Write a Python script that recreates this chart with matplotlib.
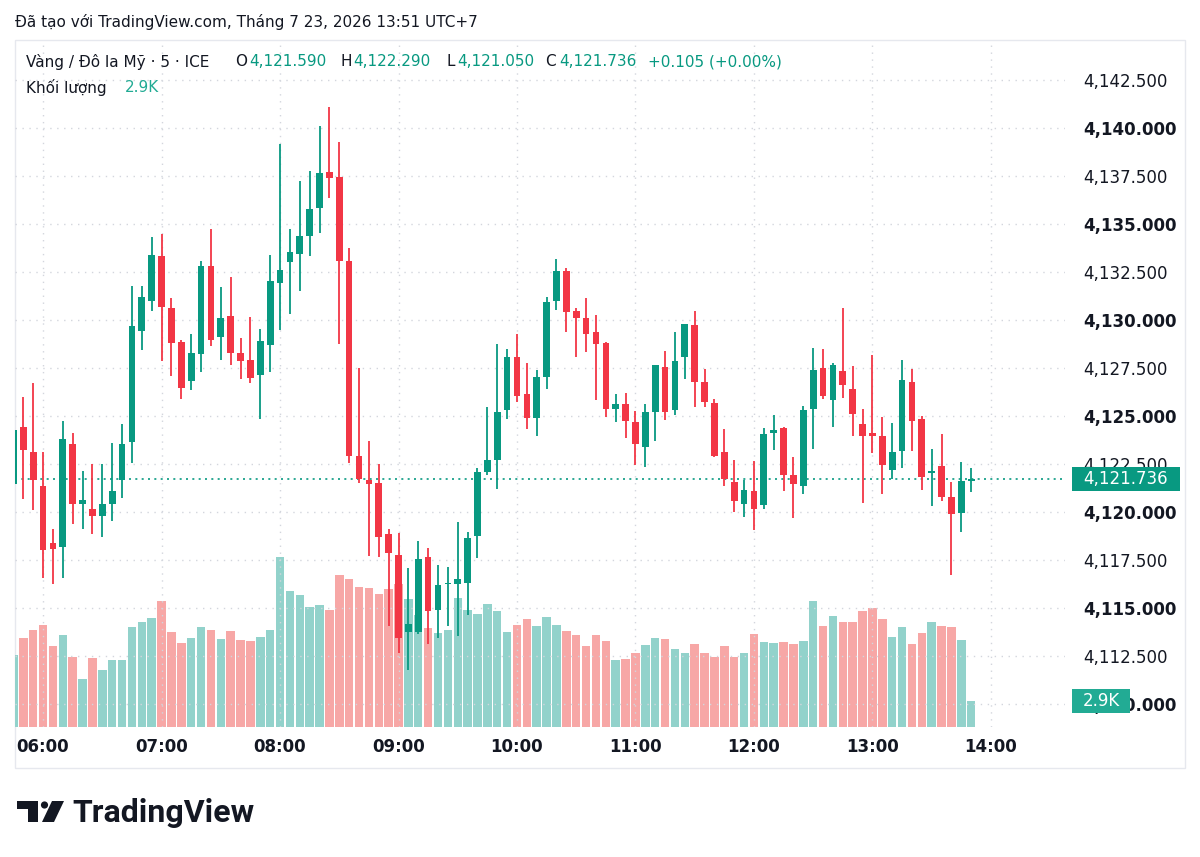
import matplotlib
matplotlib.use('Agg')
import matplotlib.pyplot as plt
import matplotlib.transforms as mtrans
from matplotlib.patches import Rectangle, Circle, Polygon
import numpy as np
import pandas as pd

# 5 minute candles, first one at 05:45
opens = [4121.45, 4124.42, 4123.10, 4121.34, 4118.39, 4118.18, 4123.52, 4120.44, 4120.17, 4119.81,
         4120.42, 4121.68, 4123.63, 4129.45, 4130.99, 4133.31, 4130.63, 4128.87, 4126.81, 4128.22,
         4132.79, 4129.12, 4130.21, 4128.26, 4127.92, 4127.15, 4128.72, 4131.91, 4133.02, 4133.42,
         4134.36, 4135.85, 4137.69, 4137.42, 4133.08, 4122.91, 4121.68, 4121.49, 4118.87, 4117.78,
         4113.73, 4113.73, 4117.67, 4114.88, 4116.25, 4116.25, 4116.29, 4118.76, 4122.10, 4122.68,
         4125.30, 4128.05, 4126.16, 4124.88, 4127.04, 4130.99, 4132.56, 4130.46, 4130.10, 4129.37,
         4128.78, 4125.37, 4125.62, 4124.67, 4123.38, 4125.22, 4127.57, 4125.32, 4128.09, 4129.73,
         4126.79, 4125.68, 4123.10, 4121.55, 4120.42, 4121.07, 4120.38, 4124.13, 4124.36, 4121.91,
         4121.34, 4125.37, 4127.51, 4125.85, 4127.32, 4126.42, 4124.57, 4124.11, 4123.98, 4122.18,
         4123.17, 4126.79, 4124.82, 4122.05, 4122.39, 4120.78, 4119.95, 4121.59]
highs = [4124.35, 4126.00, 4126.73, 4123.10, 4119.12, 4124.74, 4124.11, 4122.14, 4122.52, 4122.52,
         4123.58, 4124.57, 4131.78, 4131.78, 4134.32, 4134.49, 4131.13, 4128.97, 4129.25, 4133.08,
         4134.74, 4131.70, 4132.24, 4129.08, 4130.17, 4129.52, 4133.38, 4139.14, 4134.74, 4137.23,
         4137.78, 4140.10, 4141.09, 4139.27, 4133.77, 4127.51, 4123.69, 4122.49, 4119.12, 4118.91,
         4117.10, 4118.49, 4118.13, 4117.23, 4117.15, 4119.50, 4118.97, 4122.28, 4125.47, 4128.76,
         4128.47, 4129.25, 4127.74, 4127.40, 4131.17, 4133.17, 4132.70, 4130.61, 4131.13, 4130.27,
         4128.83, 4126.16, 4126.20, 4125.26, 4125.62, 4127.67, 4128.36, 4129.39, 4129.81, 4130.44,
         4127.42, 4125.89, 4124.32, 4122.68, 4121.64, 4122.64, 4124.36, 4125.03, 4124.42, 4122.85,
         4125.53, 4128.55, 4128.51, 4127.78, 4130.61, 4127.61, 4125.37, 4128.20, 4124.95, 4124.63,
         4127.92, 4127.42, 4124.99, 4123.26, 4124.07, 4121.56, 4122.62, 4122.29]
lows = [4121.40, 4120.65, 4120.08, 4116.56, 4116.25, 4116.56, 4119.35, 4119.12, 4118.87, 4118.70,
        4119.54, 4120.71, 4122.54, 4128.41, 4130.44, 4127.88, 4127.09, 4125.89, 4126.37, 4127.30,
        4128.66, 4127.92, 4127.67, 4126.90, 4126.71, 4124.84, 4127.30, 4129.50, 4130.29, 4131.51,
        4133.33, 4134.53, 4136.37, 4128.76, 4122.54, 4121.49, 4117.71, 4117.67, 4114.05, 4112.68,
        4111.77, 4113.65, 4113.10, 4113.42, 4114.05, 4113.52, 4114.63, 4117.61, 4121.91, 4121.17,
        4124.84, 4125.74, 4124.32, 4123.94, 4126.42, 4130.50, 4129.39, 4128.09, 4128.34, 4125.83,
        4124.95, 4124.70, 4123.84, 4122.47, 4122.33, 4123.69, 4124.80, 4125.05, 4126.90, 4125.47,
        4125.47, 4122.85, 4121.34, 4119.98, 4119.75, 4119.08, 4120.17, 4123.21, 4121.07, 4119.66,
        4120.96, 4123.27, 4125.89, 4124.42, 4125.93, 4123.94, 4120.48, 4123.06, 4120.96, 4121.70,
        4122.28, 4123.17, 4121.13, 4120.31, 4120.57, 4116.71, 4118.98, 4121.05]
closes = [4124.28, 4123.23, 4121.64, 4118.03, 4118.07, 4123.79, 4120.44, 4120.61, 4119.81, 4120.42,
          4121.11, 4123.56, 4129.66, 4131.17, 4133.38, 4130.67, 4128.78, 4126.44, 4128.26, 4132.79,
          4128.95, 4130.08, 4128.26, 4127.86, 4127.00, 4128.91, 4132.01, 4132.58, 4133.56, 4134.36,
          4135.79, 4137.67, 4137.40, 4133.08, 4122.93, 4121.70, 4121.45, 4118.70, 4117.86, 4113.46,
          4114.15, 4117.55, 4114.82, 4116.18, 4116.32, 4116.50, 4118.66, 4122.10, 4122.70, 4125.20,
          4128.09, 4126.04, 4124.88, 4127.04, 4130.94, 4132.54, 4130.40, 4130.08, 4129.27, 4128.74,
          4125.37, 4125.62, 4124.74, 4123.54, 4125.20, 4127.63, 4125.22, 4127.84, 4129.77, 4126.77,
          4125.74, 4122.89, 4121.70, 4120.59, 4121.13, 4120.13, 4124.07, 4124.26, 4121.91, 4121.45,
          4125.32, 4127.38, 4126.06, 4127.63, 4126.60, 4125.12, 4123.94, 4123.98, 4122.43, 4123.14,
          4126.88, 4124.74, 4121.84, 4122.10, 4120.80, 4119.91, 4121.63, 4121.736]
# volume in thousands
volumes = [8.0, 9.9, 10.8, 11.4, 9.0, 10.3, 7.8, 5.4, 7.7, 6.4,
           7.5, 7.5, 11.1, 11.7, 12.2, 14.0, 10.6, 9.4, 9.9, 11.1,
           10.8, 9.8, 10.7, 9.7, 9.6, 10.0, 10.8, 19.0, 15.2, 14.7,
           13.4, 13.6, 13.0, 17.0, 16.5, 15.6, 15.5, 14.8, 15.4, 16.0,
           14.3, 12.5, 11.0, 10.5, 10.8, 14.4, 13.0, 12.6, 13.7, 12.9,
           10.6, 11.4, 12.0, 11.3, 12.3, 11.4, 10.7, 10.3, 9.0, 10.3,
           9.6, 7.5, 7.6, 8.2, 9.1, 9.9, 9.8, 8.7, 8.3, 9.3,
           8.2, 7.8, 9.0, 7.8, 8.2, 10.4, 9.5, 9.4, 9.5, 9.3,
           9.6, 14.1, 11.3, 12.4, 11.7, 11.7, 12.9, 13.3, 12.0, 10.0,
           11.2, 9.3, 10.5, 11.7, 11.3, 11.1, 9.7, 2.9]

price_ticks = [4110.0, 4112.5, 4115.0, 4117.5, 4120.0, 4122.5, 4125.0, 4127.5,
               4130.0, 4132.5, 4135.0, 4137.5, 4140.0, 4142.5]
hour_labels = ['06:00', '07:00', '08:00', '09:00', '10:00', '11:00', '12:00', '13:00', '14:00']
last_price = 4121.736
last_vol_label = '2.9K'

title = 'Đã tạo với TradingView.com, Tháng 7 23, 2026 13:51 UTC+7'
symbol = 'Vàng / Đô la Mỹ · 5 · ICE'
ohlc_text = [('O', '4,121.590'), ('H', '4,122.290'), ('L', '4,121.050'), ('C', '4,121.736')]
change_text = '+0.105 (+0.00%)'

UP = '#089981'
DOWN = '#f23645'
VOL_UP = '#92d2cb'
VOL_DOWN = '#f7a7a6'
TXT = '#131722'
GRID = '#d3d6dd'

times = pd.date_range('2026-07-23 05:45', periods=len(closes), freq='5min')
idx = np.arange(len(closes))
o = np.array(opens); c = np.array(closes)
up = c >= o

W, H = 1200, 857
fig = plt.figure(figsize=(W / 100, H / 100), dpi=100)
fig.patch.set_facecolor('white')

def fr(px, py):
    return px / W, 1 - py / H

rect = [15 / W, 1 - 727 / H, (1065 - 15) / W, (727 - 40) / H]
axv = fig.add_axes(rect)
ax = fig.add_axes(rect, sharex=axv)
ax.set_zorder(1)
axv.set_zorder(0)
ax.patch.set_visible(False)

# volume
axv.bar(idx, volumes, width=0.86, color=np.where(up, VOL_UP, VOL_DOWN), linewidth=0)
axv.set_ylim(0, 76.6)
axv.axis('off')

# candles
cols = np.where(up, UP, DOWN)
ax.vlines(idx, lows, highs, color=cols, linewidth=1.3, zorder=3)
body_lo = np.minimum(o, c)
body_h = np.maximum(np.abs(c - o), 0.07)
ax.bar(idx, body_h, bottom=body_lo, width=0.68, color=cols, linewidth=0, zorder=4)

ax.set_xlim(0.16, 106.5)
ax.set_ylim(4108.80, 4144.58)

# current price line
ax.axhline(last_price, color=UP, linewidth=1.2, linestyle=(0, (1.2, 2.6)), zorder=2)

# axes and grid
hour_pos = [i for i, t in enumerate(times) if t.minute == 0]
hour_pos.append(hour_pos[-1] + 12)
ax.set_xticks(hour_pos)
ax.set_xticklabels(hour_labels)
ax.set_yticks(price_ticks)
ax.set_yticklabels([f'{v:,.3f}' for v in price_ticks])
ax.yaxis.tick_right()
ax.tick_params(axis='y', length=0, pad=13, labelsize=12, labelcolor=TXT)
ax.tick_params(axis='x', length=0, pad=8, labelsize=12, labelcolor=TXT)
for lab, v in zip(ax.get_yticklabels(), price_ticks):
    if v % 5 == 0:
        lab.set_fontweight('bold')
for lab in ax.get_xticklabels():
    lab.set_fontweight('bold')
ax.grid(True, color=GRID, linestyle=(0, (1, 4)), linewidth=1, zorder=0)
for s in ax.spines.values():
    s.set_visible(False)

# panel border
fig.add_artist(Rectangle(fr(15, 768), (1185 - 15) / W, (768 - 40) / H, transform=fig.transFigure,
                         fill=False, edgecolor='#e6e8ee', linewidth=1, zorder=0))

# price label and volume label boxes (they sit over the axis labels like in TradingView)
tp = mtrans.blended_transform_factory(fig.transFigure, ax.transData)
fig.add_artist(Rectangle((1072 / W, last_price - 0.63), 108 / W, 1.26, transform=tp,
                         facecolor=UP, edgecolor='none', zorder=5))
fig.text(1083 / W, last_price, f'{last_price:,.3f}', transform=tp, color='white', fontsize=12,
         va='center', ha='left', zorder=6)
tv = mtrans.blended_transform_factory(fig.transFigure, axv.transData)
fig.add_artist(Rectangle((1072 / W, volumes[-1] - 1.34), 58 / W, 2.68, transform=tv,
                         facecolor='#22ab94', edgecolor='none', zorder=5))
fig.text(1083 / W, volumes[-1], last_vol_label, transform=tv, color='white', fontsize=12,
         va='center', ha='left', zorder=6)

# header texts
fig.text(*fr(15, 22), title, fontsize=11, color=TXT, va='center')
fig.text(*fr(26, 62), symbol, fontsize=11, color=TXT, va='center')
xs = [(235, 249), (340, 353), (446, 457), (545, 559)]
for (k, v), (xk, xv) in zip(ohlc_text, xs):
    fig.text(*fr(xk, 62), k, fontsize=11, color=TXT, va='center')
    fig.text(*fr(xv, 62), v, fontsize=11, color=UP, va='center')
fig.text(*fr(648, 62), change_text, fontsize=11, color=UP, va='center')
fig.text(*fr(26, 88), 'Khối lượng', fontsize=11, color=TXT, va='center')
fig.text(*fr(125, 88), last_vol_label, fontsize=11, color='#22ab94', va='center')

# TradingView logo
def px(x, y):
    return (x / 100, (H - y) / 100)
t_shape = [px(17, 801), px(38, 801), px(38, 822), px(28, 822), px(28, 809), px(17, 809)]
slash = [px(52, 801), px(64, 801), px(54, 822), px(42, 822)]
fig.add_artist(Polygon(t_shape, closed=True, transform=fig.dpi_scale_trans, facecolor=TXT, edgecolor='none'))
fig.add_artist(Polygon(slash, closed=True, transform=fig.dpi_scale_trans, facecolor=TXT, edgecolor='none'))
fig.add_artist(Circle(px(44.5, 805), 0.036, transform=fig.dpi_scale_trans, facecolor=TXT, edgecolor='none'))
fig.text(*fr(72, 822), 'TradingView', fontsize=23, fontweight='bold', family=['Roboto', 'DejaVu Sans'],
         color=TXT, va='baseline', ha='left')

fig.savefig('out.png', dpi=100, facecolor='white')
